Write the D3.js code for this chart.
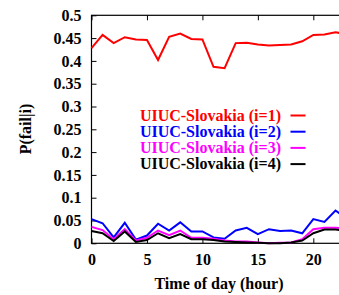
<!DOCTYPE html>
<html>
<head>
<meta charset="utf-8">
<script src="https://cdn.jsdelivr.net/npm/d3@7"></script>
<style>
body { margin: 0; background: #fff; }
</style>
</head>
<body>
<div id="chart"></div>
<script>
// hours 0..23
var hours = d3.range(0, 24);
var series_names = ["UIUC-Slovakia (i=1)", "UIUC-Slovakia (i=2)", "UIUC-Slovakia (i=3)", "UIUC-Slovakia (i=4)"];
var series_colors = ["#ff0000", "#0000ff", "#ff00ff", "#000000"];
var red_vals = [0.428,0.457,0.439,0.452,0.447,0.446,0.402,0.453,0.460,0.448,0.447,0.387,0.384,0.439,0.440,0.436,0.434,0.435,0.436,0.443,0.457,0.458,0.463,0.458];
var blue_vals = [0.053,0.044,0.013,0.045,0.008,0.017,0.043,0.028,0.046,0.026,0.026,0.013,0.010,0.028,0.034,0.020,0.031,0.027,0.028,0.022,0.053,0.047,0.072,0.055];
var magenta_vals = [0.036,0.029,0.009,0.031,0.006,0.012,0.028,0.018,0.028,0.012,0.012,0.010,0.006,0.004,0.004,0.002,0.000,0.001,0.002,0.009,0.031,0.034,0.034,0.033];
var black_vals = [0.027,0.022,0.005,0.026,0.003,0.007,0.022,0.011,0.020,0.009,0.009,0.007,0.004,0.003,0.002,0.001,0.000,0.000,0.002,0.006,0.022,0.030,0.030,0.028];
var all_vals = [red_vals, blue_vals, magenta_vals, black_vals];
var xticks = [0, 5, 10, 15, 20];
var yticks = [0, 0.05, 0.1, 0.15, 0.2, 0.25, 0.3, 0.35, 0.4, 0.45, 0.5];

var font = "Liberation Serif";
var width = 339, height = 295;
var svg = d3.select("#chart").append("svg").attr("width", width).attr("height", height);

var x = d3.scaleLinear().domain([0, 23]).range([91.5, 346.6]);
var y = d3.scaleLinear().domain([0, 0.5]).range([243.3, 15.3]);

// frame
svg.append("rect").attr("x", x(0)).attr("y", y(0.5))
  .attr("width", x(23) - x(0)).attr("height", y(0) - y(0.5))
  .attr("fill", "none").attr("stroke", "#000").attr("stroke-width", 1.2);

var xaxis = d3.axisBottom(x).tickValues(xticks).tickSize(-5).tickPadding(10.5).tickFormat(d3.format("d"));
var xtop = d3.axisTop(x).tickValues(xticks).tickSize(-5).tickFormat("");
var yaxis = d3.axisLeft(y).tickValues(yticks).tickSize(-5).tickPadding(10).tickFormat(function(d){ return String(+d.toFixed(2)); });

function style_axis(g){
  g.attr("font-family", font).attr("font-weight", "bold").attr("font-size", 16);
  g.select(".domain").remove();
  g.selectAll(".tick line").attr("stroke", "#000").attr("stroke-width", 1);
  g.selectAll("text").attr("fill", "#000");
}
svg.append("g").attr("transform", "translate(0," + y(0) + ")").call(xaxis).call(style_axis);
svg.append("g").attr("transform", "translate(0," + y(0.5) + ")").call(xtop).call(style_axis);
svg.append("g").attr("transform", "translate(" + x(0) + ",0)").call(yaxis).call(style_axis);

var line = d3.line().x(function(d, i){ return x(hours[i]); }).y(function(d){ return y(d); });

all_vals.forEach(function(vals, k){
  svg.append("path").datum(vals).attr("d", line)
    .attr("fill", "none").attr("stroke", series_colors[k]).attr("stroke-width", 2)
    .attr("stroke-linejoin", "miter");
});

// legend
var leg = svg.append("g").attr("font-family", font).attr("font-weight", "bold").attr("font-size", 16);
series_names.forEach(function(name, k){
  var ly = 115.5 + k * 16.2;
  leg.append("text").attr("x", 281).attr("y", ly).attr("dy", "0.33em")
    .attr("text-anchor", "end").attr("fill", series_colors[k]).text(name);
  leg.append("line").attr("x1", 290.5).attr("x2", 305.5).attr("y1", ly).attr("y2", ly)
    .attr("stroke", series_colors[k]).attr("stroke-width", 2);
});

// axis titles
svg.append("text").attr("x", 219).attr("y", 289).attr("text-anchor", "middle")
  .attr("font-family", font).attr("font-weight", "bold").attr("font-size", 16)
  .text("Time of day (hour)");
svg.append("text").attr("transform", "translate(31,129) rotate(-90)").attr("text-anchor", "middle")
  .attr("font-family", font).attr("font-weight", "bold").attr("font-size", 16)
  .text("P(fail|i)");
</script>
</body>
</html>
